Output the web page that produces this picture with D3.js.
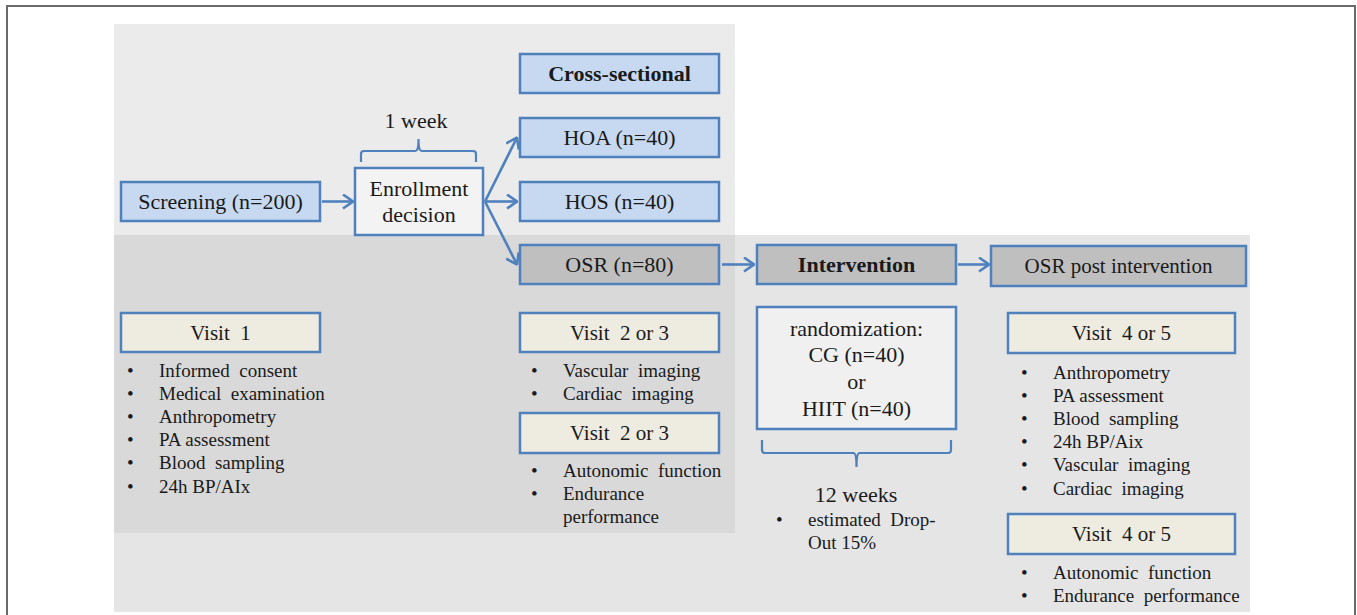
<!DOCTYPE html>
<html lang="en">
<head>
<meta charset="utf-8">
<title>Study flow</title>
<script src="https://cdn.jsdelivr.net/npm/d3@7"></script>
<style>
  html, body { margin:0; padding:0; overflow:hidden; background:#fff }
  svg { display:block }
</style>
</head>
<body>
<svg id="chart"></svg>
<script>
// ---- data (texts of the flow) ----
var topBoxes = ["Cross-sectional", "HOA (n=40)", "HOS (n=40)", "OSR (n=80)"];
var mainBoxes = ["Screening (n=200)", "Enrollment decision", "Intervention", "OSR post intervention"];
var randomLines = ["randomization:", "CG (n=40)", "or", "HIIT (n=40)"];
var visitTitles = ["Visit  1", "Visit  2 or 3", "Visit  2 or 3", "Visit  4 or 5", "Visit  4 or 5"];
var visit1Items = ["Informed  consent", "Medical  examination", "Anthropometry", "PA assessment", "Blood  sampling", "24h BP/AIx"];
var visit23aItems = ["Vascular  imaging", "Cardiac  imaging"];
var visit23bItems = ["Autonomic  function", "Endurance|performance"];
var visit45aItems = ["Anthropometry", "PA assessment", "Blood  sampling", "24h BP/Aix", "Vascular  imaging", "Cardiac  imaging"];
var visit45bItems = ["Autonomic  function", "Endurance  performance"];
var dropItems = ["estimated  Drop-|Out 15%"];
var weekLabels = ["1 week", "12 weeks"];

// ---- layout ----
var W = 1357, H = 615;
var blue = "#4f81bd";
var serif = "Liberation Serif";
var fills = {blue: "#c6d9f1", gray: "#bfbfbf", beige: "#eeece1", white: "#f3f3f3"};

var svg = d3.select("#chart").attr("width", W).attr("height", H);

// column scale (left edge of each column) and row scale (top of flow rows)
var colX = d3.scaleOrdinal()
  .domain(["c0", "c1", "c2", "c3", "c4", "c5"])
  .range([121, 355, 520, 757, 991, 1008]);
var colW = d3.scaleOrdinal()
  .domain(["c0", "c1", "c2", "c3", "c4", "c5"])
  .range([199, 128, 199, 199, 255, 227]);
var rowY = d3.scaleLinear().domain([0, 1]).range([54, 118]);   // flow rows, 64px apart
var lineY = d3.scaleLinear().domain([0, 1]).range([0, 23.2]);   // bullet lines

// background panels
svg.append("rect").attr("x", 114).attr("y", 24).attr("width", 621).attr("height", 211).attr("fill", "#ebebeb");
svg.append("rect").attr("x", 114).attr("y", 235).attr("width", 1136).attr("height", 377).attr("fill", "#e5e5e5");
svg.append("rect").attr("x", 114).attr("y", 235).attr("width", 621).attr("height", 298).attr("fill", "#d9d9d9");

// outer frame (open at the bottom)
svg.append("path").attr("d", "M7,615 V6 H1355 V615")
  .attr("fill", "none").attr("stroke", "#6a6a6a").attr("stroke-width", 2);

var defs = svg.append("defs");
defs.append("marker").attr("id", "arr")
  .attr("viewBox", "0 0 12 16").attr("refX", 11).attr("refY", 8)
  .attr("markerWidth", 12).attr("markerHeight", 16)
  .attr("markerUnits", "userSpaceOnUse").attr("orient", "auto")
  .append("path").attr("d", "M1,1 L11,8 L1,15")
  .attr("fill", "none").attr("stroke", blue).attr("stroke-width", 2.6);

function txt(g, x, y, size) {
  return g.append("text").attr("x", x).attr("y", y).attr("dy", "0.35em")
    .attr("font-family", serif).attr("font-size", size).attr("fill", "#1a1a1a")
    .style("white-space", "pre");
}

function box(x, y, w, h, fill, lines, opts) {
  opts = opts || {};
  var g = svg.append("g");
  g.append("rect").attr("x", x).attr("y", y).attr("width", w).attr("height", h)
    .attr("fill", fill).attr("stroke", blue).attr("stroke-width", 2.5);
  var lh = opts.lh || 26;
  var y0 = y + h / 2 - (lines.length - 1) * lh / 2;
  lines.forEach(function(d, i) {
    txt(g, x + w / 2, y0 + i * lh, opts.size || 21)
      .attr("text-anchor", "middle")
      .attr("font-weight", opts.bold ? "bold" : "normal")
      .text(d);
  });
  return {x: x, y: y, w: w, h: h, cx: x + w / 2, cy: y + h / 2};
}

function bullets(x, y, items) {
  var rows = [];
  items.forEach(function(it) {
    it.split("|").forEach(function(t, j) { rows.push({t: t, first: j === 0}); });
  });
  var g = svg.append("g");
  rows.forEach(function(r, i) {
    var yy = y + lineY(i);
    if (r.first) txt(g, x, yy, 19).text("\u2022");
    txt(g, x + 32, yy, 19).text(r.t);
  });
}

function arrow(x1, y1, x2, y2) {
  svg.append("line").attr("x1", x1).attr("y1", y1).attr("x2", x2).attr("y2", y2)
    .attr("stroke", blue).attr("stroke-width", 2.6).attr("marker-end", "url(#arr)");
}

// ---- top flow ----
var bh = 39;
var cross = box(colX("c2"), rowY(0), colW("c2"), bh, fills.blue, [topBoxes[0]], {bold: true, size: 22});
var hoa = box(colX("c2"), rowY(1), colW("c2"), bh, fills.blue, [topBoxes[1]], {size: 22});
var hos = box(colX("c2"), rowY(2), colW("c2"), bh, fills.blue, [topBoxes[2]], {size: 22});
var osr = box(colX("c2"), rowY(3) - 1, colW("c2"), bh, fills.gray, [topBoxes[3]], {size: 22});

var scr = box(colX("c0"), rowY(2), colW("c0"), bh, fills.blue, [mainBoxes[0]], {size: 22});
var enr = box(colX("c1"), 168, colW("c1"), 67, fills.white, mainBoxes[1].split(" "), {size: 22});
var itv = box(colX("c3"), rowY(3) - 1, colW("c3"), bh, fills.gray, [mainBoxes[2]], {bold: true, size: 22});
var post = box(colX("c4"), rowY(3), colW("c4"), bh + 1, fills.gray, [mainBoxes[3]], {size: 21});

arrow(scr.x + scr.w + 2, scr.cy, enr.x - 2, scr.cy);
[hoa, hos, osr].forEach(function(b) {
  arrow(enr.x + enr.w + 2, scr.cy, b.x - 3, b.cy);
});
arrow(osr.x + osr.w + 3, osr.cy, itv.x - 3, osr.cy);
arrow(itv.x + itv.w + 2, osr.cy, post.x - 2, osr.cy);

// curly-ish brackets
function bracket(x1, x2, yBar, yLeg, yTip) {
  var m = (x1 + x2) / 2, s = yLeg > yBar ? 1 : -1;
  var p = d3.path();
  p.moveTo(x1, yLeg); p.lineTo(x1, yBar + s * 3); p.quadraticCurveTo(x1, yBar, x1 + 3, yBar);
  p.lineTo(m - 3, yBar); p.quadraticCurveTo(m, yBar, m, yTip);
  p.quadraticCurveTo(m, yBar, m + 3, yBar);
  p.lineTo(x2 - 3, yBar); p.quadraticCurveTo(x2, yBar, x2, yBar + s * 3); p.lineTo(x2, yLeg);
  svg.append("path").attr("d", p.toString()).attr("fill", "none")
    .attr("stroke", blue).attr("stroke-width", 2.2);
}
bracket(enr.x + 6, enr.x + enr.w - 7, 151, 162, 139);
txt(svg, 416, 120, 22).attr("text-anchor", "middle").text(weekLabels[0]);

// ---- lower section ----
box(colX("c0"), 313, colW("c0"), 39, fills.beige, [visitTitles[0]], {size: 21});
bullets(127, 370, visit1Items);

box(colX("c2"), 313, colW("c2"), 39, fills.beige, [visitTitles[1]], {size: 21});
bullets(531, 370, visit23aItems);
box(colX("c2"), 413, colW("c2"), 40, fills.beige, [visitTitles[2]], {size: 21});
bullets(531, 470, visit23bItems);

var rnd = box(colX("c3"), 307, colW("c3"), 122, "#f0f0f0", randomLines, {lh: 26.6, size: 22});
bracket(rnd.x + 5, rnd.x + rnd.w - 5, 453, 440, 467);
txt(svg, 856, 494, 22).attr("text-anchor", "middle").text(weekLabels[1]);
bullets(776, 519, dropItems);

box(colX("c5"), 313, colW("c5"), 40, fills.beige, [visitTitles[3]], {size: 21});
bullets(1021, 372, visit45aItems);
box(colX("c5"), 514, colW("c5"), 40, fills.beige, [visitTitles[4]], {size: 21});
bullets(1021, 572, visit45bItems);
</script>
</body>
</html>
